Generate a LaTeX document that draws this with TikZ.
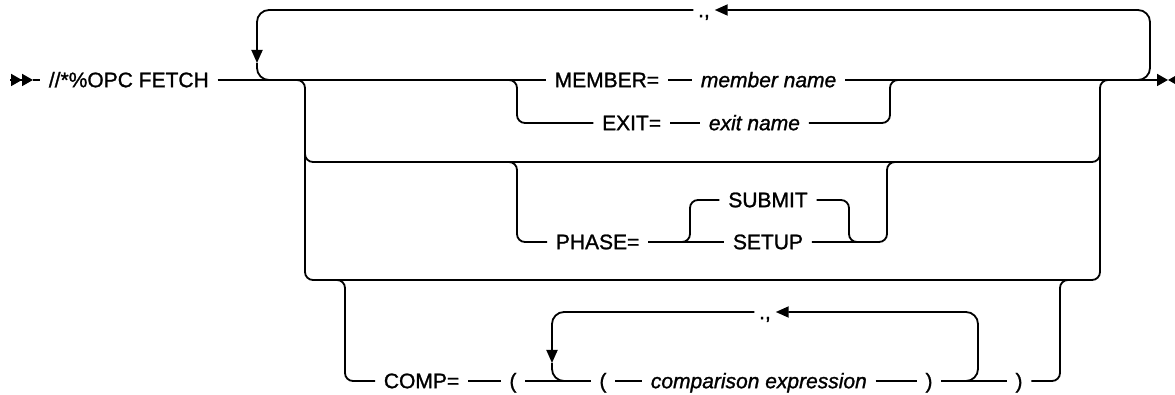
\documentclass[tikz,border=0pt]{standalone}
\usepackage{fontspec}
\setmainfont{Liberation Sans}[FakeBold=1.2]
\usetikzlibrary{arrows.meta}

\begin{document}
\begin{tikzpicture}[x=0.5pt,y=-0.5pt,line width=0.9pt,
	>={Triangle[length=6.5pt,width=5.5pt]}]
\tikzset{WordStyle/.style =
		{inner xsep=4pt,
		inner ysep=0pt,
		text height=0.72em,
		text depth=0pt,
	%	draw,
		font=\fontsize{10.5}{12}\selectfont},
	VarStyle/.style = {WordStyle, font=\fontsize{10.5}{12}\selectfont\itshape},
	RailStyle/.style = {rounded corners=4pt},
	LoopStyle/.style = {rounded corners=6pt},
	EndTip/.tip = {Triangle[length=5.5pt,width=6pt]}}
	\useasboundingbox (0,0) rectangle (1175,395);

	% words on the tracks
	\node[WordStyle, anchor=west] (Fetch) at (40,80) {//*\%OPC FETCH};
	\node[WordStyle, anchor=east] (Member) at (668,80) {MEMBER=};
	\node[VarStyle, anchor=west] (MemberName) at (692,80) {member name};
	\node[WordStyle, anchor=east] (Exit) at (670,123) {EXIT=};
	\node[VarStyle, anchor=west] (ExitName) at (700,123) {exit name};
	\node[WordStyle, anchor=west] (Phase) at (547,242) {PHASE=};
	\node[WordStyle] (Submit) at (768,200) {SUBMIT};
	\node[WordStyle] (Setup) at (768,242) {SETUP};
	\node[WordStyle, anchor=west] (Comp) at (375,381) {COMP=};
	\node[WordStyle] (OpenA) at (513,381) {(};
	\node[WordStyle] (OpenB) at (603,381) {(};
	\node[VarStyle, anchor=west] (Expr) at (642,381) {comparison expression};
	\node[WordStyle] (CloseB) at (929,381) {)};
	\node[WordStyle] (CloseA) at (1019,381) {)};
	\node[WordStyle, inner xsep=2pt] (SepTop) at (704,10) {.,};
	\node[WordStyle, inner xsep=2pt] (SepComp) at (765,312) {.,};

	% free ends
	\coordinate (b0) at (10,80);
	\coordinate (b1) at (33,80);
	\coordinate (e0) at (1168,80);
	\coordinate (e1) at (1195,80);
	\coordinate (LoopIn) at (1125,80);
	\coordinate (LoopTR) at (1150,10);
	\coordinate (LoopOut) at (257,63);
	\coordinate (LoopEnd) at (285,80);
	\coordinate (RailL) at (290,80);
	\coordinate (RailBL) at (305,280);
	\coordinate (RailBR) at (1100,280);
	\coordinate (RailR) at (1115,80);
	\coordinate (MidL) at (305,148);
	\coordinate (MidA) at (305,162);
	\coordinate (MidB) at (1100,162);
	\coordinate (MidR) at (1100,148);
	\coordinate (ExitIn) at (505,80);
	\coordinate (ExitL) at (517,123);
	\coordinate (ExitR) at (890,123);
	\coordinate (ExitOut) at (903,80);
	\coordinate (PhaseIn) at (505,162);
	\coordinate (PhaseL) at (517,242);
	\coordinate (ForkIn) at (677,242);
	\coordinate (ForkL) at (690,200);
	\coordinate (ForkRB) at (849,242);
	\coordinate (ForkOut) at (862,242);
	\coordinate (PhaseR) at (887,242);
	\coordinate (PhaseOut) at (900,162);
	\coordinate (CompIn) at (331,280);
	\coordinate (CompL) at (345,381);
	\coordinate (CompR) at (1060,381);
	\coordinate (CompOut) at (1073,280);
	\coordinate (RepIn) at (965,381);
	\coordinate (RepTR) at (978,312);
	\coordinate (RepOut) at (552,363);
	\coordinate (RepEnd) at (567,381);

	% main track
	\draw[-{EndTip[]EndTip[]}] (b0) -- (b1);
	\draw (b1) -- (Fetch.west);
	\draw (Fetch.east) -- (Member.west);
	\draw (Member.east) -- (MemberName.west);
	\draw[-{EndTip[]}] (MemberName.east) -- (e0);
	\draw[-{EndTip[]}] (e1) -- (e0);
	% repeat loop
	\draw[->, LoopStyle] (LoopIn) -| (LoopTR) -- (SepTop.east);
	\draw[->, LoopStyle] (SepTop.west) -| (LoopOut);
	\draw[LoopStyle] (LoopOut) |- (LoopEnd);
	% outer rails
	\draw[RailStyle] (RailL) -| (RailBL) -- (RailBR) |- (RailR);
	\draw[RailStyle] (MidL) -- (MidA) -- (MidB) -- (MidR);
	% EXIT=
	\draw[RailStyle] (ExitIn) -| (ExitL) -- (Exit.west);
	\draw (Exit.east) -- (ExitName.west);
	\draw[RailStyle] (ExitName.east) -- (ExitR) |- (ExitOut);
	% PHASE=
	\draw[RailStyle] (PhaseIn) -| (PhaseL) -- (Phase.west);
	\draw (Phase.east) -- (Setup.west);
	\draw[RailStyle] (ForkIn) -| (ForkL) -- (Submit.west);
	\draw[RailStyle] (Submit.east) -| (ForkRB) -- (ForkOut);
	\draw[RailStyle] (Setup.east) -- (PhaseR) |- (PhaseOut);
	% COMP=
	\draw[RailStyle] (CompIn) -| (CompL) -- (Comp.west);
	\draw (Comp.east) -- (OpenA.west);
	\draw (OpenA.east) -- (OpenB.west);
	\draw (OpenB.east) -- (Expr.west);
	\draw (Expr.east) -- (CloseB.west);
	\draw (CloseB.east) -- (CloseA.west);
	\draw[RailStyle] (CloseA.east) -- (CompR) |- (CompOut);
	\draw[->, LoopStyle] (RepIn) -| (RepTR) -- (SepComp.east);
	\draw[->, LoopStyle] (SepComp.west) -| (RepOut);
	\draw[LoopStyle] (RepOut) |- (RepEnd);
%	\draw[help lines] (0,0) grid[step=50] (1175,395);
\end{tikzpicture}
\end{document}
